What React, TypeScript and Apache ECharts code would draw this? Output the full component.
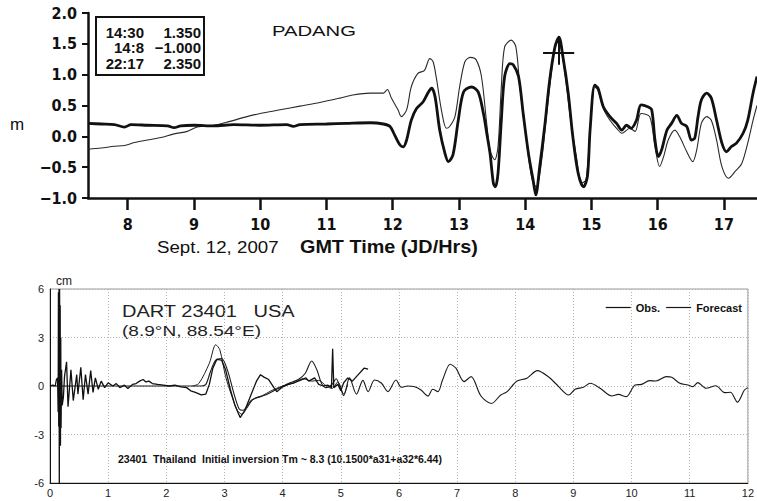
import React, { useEffect, useRef } from 'react';
import * as echarts from 'echarts';

// ---------- Top panel: PADANG tide gauge (hours GMT, metres) ----------
const padangHourTicks = [8, 9, 10, 11, 12, 13, 14, 15, 16, 17];
const padangThin: [number, number][] = [
  [7.4, -0.21], [7.6, -0.19], [7.8, -0.16], [7.95, -0.15], [8.1, -0.1], [8.3, -0.06], [8.5, -0.02],
  [8.7, 0.04], [8.9, 0.08], [9.05, 0.15], [9.3, 0.18], [9.5, 0.23], [9.8, 0.32], [10.0, 0.37],
  [10.3, 0.43], [10.6, 0.49], [10.9, 0.55], [11.2, 0.62], [11.4, 0.67], [11.66, 0.7], [11.86, 0.7],
  [11.92, 0.76], [11.98, 0.62], [12.08, 0.43], [12.13, 0.32], [12.21, 0.43], [12.28, 0.8], [12.38, 1.02],
  [12.48, 1.07], [12.56, 1.26], [12.61, 1.21], [12.66, 0.94], [12.74, 0.4], [12.81, 0.13], [12.86, 0.16],
  [12.94, 0.32], [13.01, 0.8], [13.09, 1.21], [13.17, 1.28], [13.26, 1.24], [13.34, 0.97], [13.42, 0.2],
  [13.47, -0.23], [13.54, -0.38], [13.59, -0.17], [13.64, 0.8], [13.69, 1.45], [13.79, 1.56], [13.86, 1.45],
  [13.92, 0.8], [14.0, 0.1], [14.07, -0.49], [14.12, -0.76], [14.17, -0.82], [14.25, -0.38], [14.32, 0.32],
  [14.4, 1.07], [14.47, 1.53], [14.53, 1.48], [14.6, 1.02], [14.68, 0.32], [14.78, -0.38], [14.85, -0.76],
  [14.92, -0.7], [14.98, 0.1], [15.05, 0.8], [15.1, 0.75], [15.18, 0.45], [15.28, 0.26], [15.38, 0.13],
  [15.46, 0.05], [15.58, 0.13], [15.66, 0.08], [15.75, 0.37], [15.88, 0.32], [15.96, -0.17], [16.03, -0.49],
  [16.09, -0.33], [16.16, -0.06], [16.26, 0.1], [16.33, 0.0], [16.44, -0.25], [16.53, -0.41], [16.59, -0.22],
  [16.66, 0.21], [16.74, 0.32], [16.81, 0.26], [16.89, -0.06], [16.97, -0.49], [17.07, -0.68], [17.17, -0.57],
  [17.27, -0.44], [17.36, -0.11], [17.44, 0.26], [17.5, 0.5],
];
const padangThick: [number, number][] = [
  [7.4, 0.21], [7.6, 0.2], [7.8, 0.19], [7.95, 0.15], [8.05, 0.19], [8.3, 0.18], [8.6, 0.17], [8.7, 0.14],
  [8.8, 0.17], [9.0, 0.18], [9.3, 0.17], [9.6, 0.19], [10.0, 0.18], [10.4, 0.19], [10.5, 0.16], [10.6, 0.19],
  [11.0, 0.2], [11.3, 0.21], [11.66, 0.22], [11.86, 0.2], [11.96, 0.16], [12.03, 0.02], [12.11, -0.14],
  [12.16, -0.17], [12.21, -0.06], [12.28, 0.26], [12.36, 0.45], [12.46, 0.56], [12.54, 0.72], [12.59, 0.78],
  [12.64, 0.64], [12.71, 0.1], [12.79, -0.28], [12.84, -0.41], [12.91, -0.3], [12.99, 0.26], [13.07, 0.72],
  [13.19, 0.8], [13.29, 0.72], [13.37, 0.37], [13.42, 0.05], [13.47, -0.28], [13.52, -0.76], [13.55, -0.82],
  [13.59, -0.6], [13.64, 0.26], [13.69, 0.97], [13.77, 1.18], [13.82, 1.16], [13.9, 0.97], [13.97, 0.37],
  [14.05, -0.28], [14.12, -0.71], [14.16, -0.95], [14.22, -0.49], [14.3, 0.21], [14.37, 0.91], [14.45, 1.45],
  [14.51, 1.61], [14.57, 1.29], [14.65, 0.7], [14.72, -0.01], [14.8, -0.6], [14.88, -0.82], [14.94, -0.65],
  [14.98, 0.1], [15.05, 0.83], [15.1, 0.78], [15.18, 0.48], [15.28, 0.32], [15.38, 0.21], [15.46, 0.1],
  [15.53, 0.18], [15.6, 0.13], [15.68, 0.26], [15.75, 0.51], [15.85, 0.48], [15.91, 0.43], [15.96, -0.06],
  [16.01, -0.33], [16.06, -0.22], [16.14, 0.1], [16.21, 0.21], [16.29, 0.34], [16.36, 0.21], [16.44, 0.16],
  [16.51, -0.06], [16.56, -0.03], [16.61, 0.32], [16.66, 0.59], [16.74, 0.7], [16.81, 0.62], [16.89, 0.26],
  [16.97, -0.11], [17.04, -0.25], [17.11, -0.17], [17.19, -0.11], [17.29, 0.05], [17.36, 0.26], [17.44, 0.7],
  [17.5, 0.97],
];
const padangMaxMark = { t: 14.5, v: 1.35 };
const padangMinMark = { t: 14.133, v: -1.0 };
const padangInfoRows = [
  ['14:30', '1.350'],
  ['14:8', '\u22121.000'],
  ['22:17', '2.350'],
];

// ---------- Bottom panel: DART 23401 (hours, cm) ----------
const dartObs: [number, number][] = [
  [0, 0], [0.05, 0.05], [0.09, 0.0], [0.11, 0.4], [0.13, 0.5], [0.14, -1.6], [0.145, 5.8], [0.15, -2.5],
  [0.155, 6], [0.16, -6], [0.165, 6], [0.17, -3.5], [0.175, 5], [0.18, -3.7], [0.185, 3], [0.19, -2.6],
  [0.2, 1.0], [0.21, -1.2], [0.23, -0.7], [0.25, 0.6], [0.285, 1.5], [0.31, -1.28], [0.36, 1.0],
  [0.4, -0.9], [0.46, 0.7], [0.48, -0.5], [0.53, 1.15], [0.57, -0.85], [0.61, 0.7], [0.655, -0.5],
  [0.7, 0.95], [0.74, -0.4], [0.78, 0.5], [0.83, -0.2], [0.88, 0.3], [0.94, -0.1], [1.0, 0.2],
  [1.08, 0.0], [1.14, 0.15], [1.2, -0.1], [1.28, 0.05], [1.34, -0.15], [1.42, 0.1], [1.48, 0.15],
  [1.54, 0.3], [1.6, 0.4], [1.65, 0.25], [1.7, 0.3], [1.76, 0.15], [1.85, 0.1], [1.95, 0.05], [2.05, 0.0],
  [2.15, 0.05], [2.25, -0.05], [2.35, -0.1], [2.42, -0.3], [2.5, -0.4], [2.6, -0.55], [2.68, -0.5],
  [2.74, 0.1], [2.8, 1.1], [2.87, 1.65], [2.95, 1.6], [3.02, 1.0], [3.1, -0.2], [3.18, -1.2], [3.27, -1.95],
  [3.35, -1.5], [3.45, -0.6], [3.55, 0.3], [3.62, 0.7], [3.68, 0.55], [3.76, 0.4], [3.85, -0.1], [3.9, -0.35],
  [4.0, -0.05], [4.1, 0.1], [4.2, 0.2], [4.3, 0.35], [4.4, 0.5], [4.45, 0.3], [4.55, 0.5], [4.62, 0.1],
  [4.7, 0.0], [4.78, 0.05], [4.84, -0.1], [4.86, 2.3], [4.88, -0.1], [4.95, 0.1], [5.0, -0.3], [5.05, 0.2],
  [5.12, 0.5], [5.2, 0.3], [5.3, 0.7], [5.4, 1.1], [5.47, 1.05],
];
const dartForecast: [number, number][] = [
  [0, 0], [1.0, 0.0], [2.0, 0.0], [2.6, 0.0], [2.68, 0.1], [2.76, 0.9], [2.85, 1.6], [2.95, 1.7],
  [3.05, 1.0], [3.15, -0.3], [3.25, -1.4], [3.32, -1.5], [3.47, -0.87], [3.7, -0.56], [3.93, -0.14],
  [4.1, 0.16], [4.27, 0.4], [4.39, 0.79], [4.5, 1.55], [4.59, 0.99], [4.67, 0.16], [4.75, -0.1],
  [4.85, 0.1], [4.92, 0.45], [5.0, -0.2], [5.05, -0.6], [5.15, 0.5], [5.27, -0.5], [5.38, 0.35],
  [5.47, -0.35], [5.58, 0.37], [5.7, 0.17], [5.81, -0.35], [5.95, 0.37], [6.04, -0.08], [6.15, 0.0],
  [6.27, -0.05], [6.38, -0.25], [6.5, -0.62], [6.58, -0.2], [6.67, -0.35], [6.75, 0.37], [6.88, 1.35],
  [6.98, 1.1], [7.12, 0.27], [7.24, 0.58], [7.41, -0.62], [7.59, -1.08], [7.75, -0.56], [7.86, -0.35],
  [8.03, 0.31], [8.2, 0.48], [8.38, 0.95], [8.58, 0.54], [8.72, 0.06], [8.92, -0.56], [9.03, -0.2],
  [9.17, -0.08], [9.29, 0.17], [9.46, -0.14], [9.66, -0.62], [9.77, -0.52], [9.91, -0.66], [10.06, 0.06],
  [10.17, 0.1], [10.31, 0.33], [10.42, 0.31], [10.6, 0.58], [10.69, 0.54], [10.83, 0.17], [10.97, 0.06],
  [11.05, -0.04], [11.14, 0.21], [11.28, -0.14], [11.45, 0.02], [11.6, -0.41], [11.7, -0.39], [11.82, -1.0],
  [11.94, -0.25], [12.0, -0.1],
];
const dartInversion: [number, number][] = [
  [2.45, 0.0], [2.56, 0.16], [2.74, 1.41], [2.85, 2.55], [2.92, 2.24], [3.02, 0.58], [3.13, -0.66],
  [3.22, -1.49], [3.3, -1.75], [3.38, -1.4], [3.5, -0.8], [3.65, -0.6], [3.8, -0.3], [4.0, 0.0],
  [4.2, 0.2], [4.35, 0.45], [4.5, 0.3], [4.62, 0.35], [4.75, 0.0], [4.85, -0.15], [4.95, 0.25],
  [5.05, -0.5], [5.12, 0.1],
];
const dartXTicks = { min: 0, max: 12, step: 1 };
const dartYTicks = { min: -6, max: 6, step: 3 };

export default function App() {
  const ref = useRef<HTMLDivElement>(null);
  useEffect(() => {
    if (!ref.current) return;
    const chart = echarts.init(ref.current, undefined, { renderer: 'svg' });
    const narrow = "'Liberation Sans Narrow', 'DejaVu Sans Condensed', 'Liberation Sans', sans-serif";
    const sans = "'Liberation Sans', Arial, sans-serif";
    const infoTexts: any[] = [];
    padangInfoRows.forEach((row, i) => {
      const y = 32 + i * 15.5;
      infoTexts.push({ type: 'text', x: 144, y, style: { text: row[0], font: `bold 15px ${sans}`, fill: '#111', textAlign: 'right', textVerticalAlign: 'middle' } });
      infoTexts.push({ type: 'text', x: 201, y, style: { text: row[1], font: `bold 15px ${sans}`, fill: '#111', textAlign: 'right', textVerticalAlign: 'middle' } });
    });
    const option: any = {
      animation: false,
      backgroundColor: '#ffffff',
      grid: [
        { left: 88, top: 13, width: 669, height: 185 },
        { left: 50, top: 289, width: 702, height: 194, show: true, borderColor: '#9a9a9a', borderWidth: 1, backgroundColor: 'transparent' },
      ],
      xAxis: [
        {
          gridIndex: 0, type: 'value', min: 7.4, max: 17.5,
          axisLine: { show: true, onZero: false, lineStyle: { color: '#111', width: 2.5 } },
          axisTick: { show: true, length: 12, customValues: padangHourTicks, lineStyle: { color: '#111', width: 2.5 } },
          axisLabel: { customValues: padangHourTicks, margin: 18, fontSize: 16, fontWeight: 'bold', fontFamily: narrow, color: '#111' },
          splitLine: { show: false },
        },
        {
          gridIndex: 1, type: 'value', min: dartXTicks.min, max: dartXTicks.max, interval: dartXTicks.step,
          axisLine: { show: true, onZero: false, lineStyle: { color: '#111', width: 1 } },
          axisTick: { show: false },
          axisLabel: { margin: 4, fontSize: 11, fontFamily: sans, color: '#222', showMaxLabel: true },
          splitLine: { show: true, lineStyle: { color: '#b5b5b5', type: [1, 2], width: 1 } },
        },
      ],
      yAxis: [
        {
          gridIndex: 0, type: 'value', min: -1, max: 2, interval: 0.5,
          axisLine: { show: true, onZero: false, lineStyle: { color: '#111', width: 2.5 } },
          axisTick: { show: true, length: 6, lineStyle: { color: '#111', width: 2 } },
          axisLabel: {
            margin: 11, fontSize: 16, fontWeight: 'bold', fontFamily: narrow, color: '#111',
            formatter: (v: number) => (v < 0 ? '\u2212' + Math.abs(v).toFixed(1) : v.toFixed(1)),
          },
          splitLine: { show: false },
        },
        {
          gridIndex: 1, type: 'value', min: dartYTicks.min, max: dartYTicks.max, interval: dartYTicks.step,
          axisLine: { show: true, onZero: false, lineStyle: { color: '#111', width: 1 } },
          axisTick: { show: false },
          axisLabel: { margin: 6, fontSize: 11, fontFamily: sans, color: '#222' },
          splitLine: { show: true, lineStyle: { color: '#b5b5b5', type: [1, 2], width: 1 } },
        },
      ],
      legend: {
        data: ['Obs.', 'Forecast'], right: 10, top: 297, icon: 'rect', itemWidth: 25, itemHeight: 1.2,
        itemGap: 6, textStyle: { fontSize: 11, fontWeight: 'bold', fontFamily: sans, color: '#111' },
        selectedMode: false,
      },
      series: [
        {
          name: 'PADANG thin', type: 'line', xAxisIndex: 0, yAxisIndex: 0, data: padangThin, showSymbol: false,
          smooth: 0.3, lineStyle: { color: '#2a2a2a', width: 1.1 }, silent: true,
        },
        {
          name: 'PADANG thick', type: 'line', xAxisIndex: 0, yAxisIndex: 0, data: padangThick, showSymbol: false,
          smooth: 0.3, clip: false, lineStyle: { color: '#111', width: 2.8 }, silent: true,
          markLine: {
            silent: true, symbol: ['none', 'none'], label: { show: false },
            lineStyle: { color: '#111', width: 2, type: 'solid' },
            data: [
              [{ coord: [padangMaxMark.t - 0.23, padangMaxMark.v] }, { coord: [padangMaxMark.t + 0.24, padangMaxMark.v] }],
              [{ coord: [padangMaxMark.t, padangMaxMark.v - 0.19] }, { coord: [padangMaxMark.t, padangMaxMark.v + 0.27] }],
              [{ coord: [padangMinMark.t, padangMinMark.v + 0.1] }, { coord: [padangMinMark.t, padangMinMark.v - 0.2] }],
            ],
          },
        },
        {
          name: 'Inversion', type: 'line', xAxisIndex: 1, yAxisIndex: 1, data: dartInversion, showSymbol: false,
          smooth: 0.3, lineStyle: { color: '#222', width: 1 }, silent: true,
        },
        {
          name: 'Forecast', type: 'line', xAxisIndex: 1, yAxisIndex: 1, data: dartForecast, showSymbol: false,
          smooth: 0.3, lineStyle: { color: '#1a1a1a', width: 1.1 }, itemStyle: { color: '#1a1a1a' }, silent: true,
        },
        {
          name: 'Obs.', type: 'line', xAxisIndex: 1, yAxisIndex: 1, data: dartObs, showSymbol: false,
          lineStyle: { color: '#111', width: 1.3 }, itemStyle: { color: '#111' }, silent: true,
        },
      ],
      graphic: [
        { type: 'text', x: 10, y: 124, style: { text: 'm', font: `17px ${sans}`, fill: '#111', textVerticalAlign: 'middle' } },
        { type: 'rect', shape: { x: 96, y: 17, width: 108, height: 58 }, style: { fill: '#fff', stroke: '#111', lineWidth: 2 } },
        ...infoTexts,
        { type: 'text', x: 272, y: 31, scaleX: 1.35, style: { text: 'PADANG', font: `15px ${sans}`, fill: '#111', textVerticalAlign: 'middle' } },
        { type: 'text', x: 157, y: 247, scaleX: 1.1, style: { text: 'Sept. 12, 2007', font: `17px ${sans}`, fill: '#111', textVerticalAlign: 'middle' } },
        { type: 'text', x: 300, y: 247, scaleX: 1.1, style: { text: 'GMT Time (JD/Hrs)', font: `bold 18px ${sans}`, fill: '#111', textVerticalAlign: 'middle' } },
        { type: 'text', x: 56, y: 281, style: { text: 'cm', font: `12px ${sans}`, fill: '#222', textVerticalAlign: 'middle' } },
        { type: 'text', x: 122, y: 312, scaleX: 1.25, style: { text: 'DART 23401   USA', font: `16px ${sans}`, fill: '#222', textVerticalAlign: 'middle' } },
        { type: 'text', x: 122, y: 331, scaleX: 1.27, style: { text: '(8.9°N, 88.54°E)', font: `15px ${sans}`, fill: '#222', textVerticalAlign: 'middle' } },
        { type: 'text', x: 118, y: 459, style: { text: '23401  Thailand  Initial inversion Tm ~ 8.3 (10.1500*a31+a32*6.44)', font: `bold 10.5px ${sans}`, fill: '#111', textVerticalAlign: 'middle' } },
      ],
    };
    chart.setOption(option);
    return () => chart.dispose();
  }, []);
  return <div ref={ref} style={{ position: 'absolute', left: 0, top: 0, width: 757, height: 501 }} />;
}
